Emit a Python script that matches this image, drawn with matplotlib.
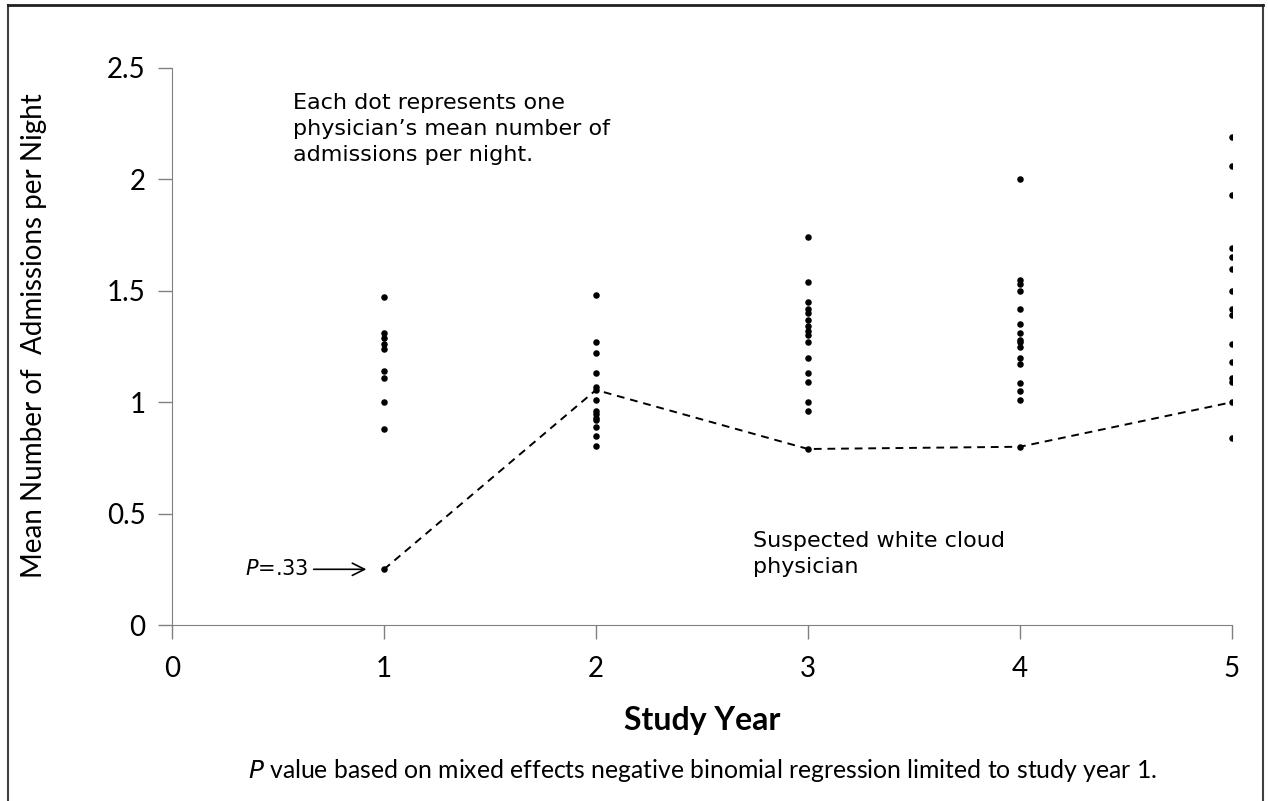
import matplotlib
matplotlib.use("Agg")
import matplotlib.pyplot as plt
from matplotlib.lines import Line2D

# mean admissions per night, one value per physician
year1 = [1.47, 1.31, 1.29, 1.26, 1.24, 1.14, 1.11, 1.00, 0.88, 0.25]
year2 = [1.48, 1.27, 1.22, 1.13, 1.07, 1.055, 1.01, 0.96, 0.945, 0.93, 0.92, 0.89, 0.85, 0.805]
year3 = [1.74, 1.54, 1.45, 1.42, 1.40, 1.37, 1.34, 1.32, 1.30, 1.27, 1.20, 1.13, 1.09, 1.00, 0.96, 0.79]
year4 = [2.00, 1.55, 1.53, 1.50, 1.42, 1.35, 1.31, 1.28, 1.27, 1.25, 1.20, 1.17, 1.085, 1.05, 1.01, 0.80]
year5 = [2.19, 2.06, 1.93, 1.69, 1.65, 1.60, 1.50, 1.42, 1.39, 1.26, 1.18, 1.11, 1.09, 1.00, 0.84]
all_years = [year1, year2, year3, year4, year5]

# the suspected white cloud physician across years
wc_years = [1, 2, 3, 4, 5]
wc_vals = [0.25, 1.055, 0.79, 0.80, 1.00]

x_ticks = [0, 1, 2, 3, 4, 5]
y_ticks = [0, 0.5, 1, 1.5, 2, 2.5]
y_ticklabels = ["0", "0.5", "1", "1.5", "2", "2.5"]

main_font = "Lato"
note_font = "DejaVu Sans"

fig = plt.figure(figsize=(12.68, 8.01), dpi=100)
ax = fig.add_axes([172/1268, 1 - 625/801, (1232 - 172)/1268, (625 - 68)/801])

for yr, vals in zip(x_ticks[1:], all_years):
    ax.scatter([yr]*len(vals), vals, s=22, color="black", zorder=3, linewidths=0)

ax.plot(wc_years, wc_vals, color="black", linestyle=(0, (4, 3)), linewidth=1.4, zorder=2)

ax.set_xlim(0, 5)
ax.set_ylim(0, 2.5)
ax.set_xticks(x_ticks)
ax.set_xticklabels([str(v) for v in x_ticks], fontsize=20, family=main_font)
ax.set_yticks(y_ticks)
ax.set_yticklabels(y_ticklabels, fontsize=20, family=main_font)
ax.tick_params(axis="both", direction="out", length=10, width=1, color="#808080", pad=9)
ax.tick_params(axis="x", pad=12)
for s in ["top", "right"]:
    ax.spines[s].set_visible(False)
for s in ["left", "bottom"]:
    ax.spines[s].set_color("#808080")
    ax.spines[s].set_clip_on(False)

ax.set_ylabel("Mean Number of  Admissions per Night", fontsize=20, family=main_font)
ax.yaxis.set_label_coords(-0.118, 0.52)
ax.set_xlabel("Study Year", fontsize=23, family=main_font, fontweight="bold")
ax.xaxis.set_label_coords(0.5, -0.145)

ax.text(0.57, 2.39, "Each dot represents one\nphysician\u2019s mean number of\nadmissions per night.",
        fontsize=16, family=note_font, va="top", ha="left", linespacing=1.38)
ax.text(2.74, 0.32, "Suspected white cloud\nphysician", fontsize=16, family=note_font,
        va="center", ha="left", linespacing=1.38)

ax.annotate("", xy=(0.93, 0.25), xytext=(0.655, 0.25),
            arrowprops=dict(arrowstyle="->", color="black", lw=1.2, mutation_scale=22))
ax.text(0.645, 0.25, "$\\mathit{P}$=.33", fontsize=15, family=note_font, va="center", ha="right")

fig.text(702/1268, 1 - 770/801,
         "$\\mathit{P}$ value based on mixed effects negative binomial regression limited to study year 1.",
         fontsize=17.8, family=main_font, ha="center", va="center")

# border around the whole chart
fig.add_artist(Line2D([8/1268, 8/1268], [0, 1 - 5/801], color="#404040", lw=1.5))
fig.add_artist(Line2D([1263/1268, 1263/1268], [0, 1 - 5/801], color="#404040", lw=1.5))
fig.add_artist(Line2D([8/1268, 1263/1268], [1 - 5/801, 1 - 5/801], color="#202020", lw=2))

fig.savefig("out.png", dpi=100)
